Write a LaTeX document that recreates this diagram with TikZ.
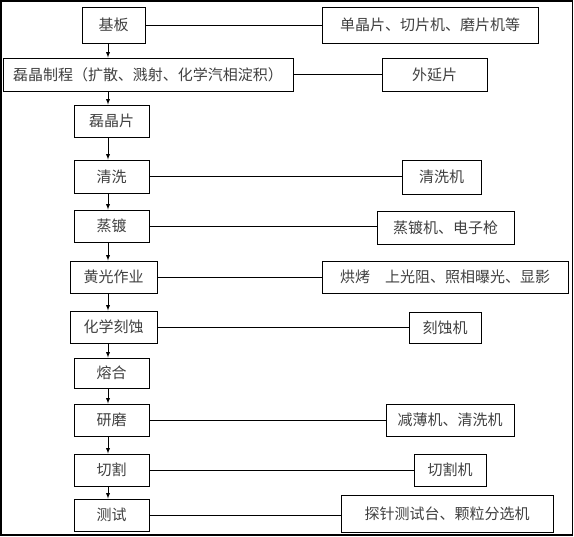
\documentclass[tikz,border=0pt]{standalone}
\usepackage{fontspec}
\setmainfont{Noto Sans CJK SC}
\usepackage{tikz}

\begin{document}
\begin{tikzpicture}[x=1pt, y=-1pt, thick]
    \tikzstyle{step box} = [rectangle, draw, line width=0.9pt, inner sep=0pt, text=black!75, font=\fontsize{15}{18}\selectfont, text centered]
    \tikzstyle{flow} = [->, >=latex, line width=0.9pt]
    \tikzstyle{link} = [-, line width=0.9pt]
    \useasboundingbox (0,0) rectangle (574,537);
    \draw[line width=1.2pt] (1,1) rectangle (572.5,535);
    \coordinate (axis) at (108,0);
    % process steps
    \node[step box, minimum width=63pt, minimum height=36pt] (S1) at (113.5,25) {基板};
    \node[step box, minimum width=290pt, minimum height=33pt] (S2) at (148,74.5) {磊晶制程（扩散、溅射、化学汽相淀积）};
    \node[step box, minimum width=75pt, minimum height=32pt] (S3) at (111.5,121) {磊晶片};
    \node[step box, minimum width=75pt, minimum height=33pt] (S4) at (111.5,176.5) {清洗};
    \node[step box, minimum width=75pt, minimum height=32pt] (S5) at (111.5,226) {蒸镀};
    \node[step box, minimum width=87pt, minimum height=32pt] (S6) at (113.5,277) {黄光作业};
    \node[step box, minimum width=87pt, minimum height=32pt] (S7) at (113.5,327) {化学刻蚀};
    \node[step box, minimum width=75pt, minimum height=30pt] (S8) at (111.5,373) {熔合};
    \node[step box, minimum width=75pt, minimum height=32pt] (S9) at (111.5,420) {研磨};
    \node[step box, minimum width=75pt, minimum height=32pt] (S10) at (111.5,470) {切割};
    \node[step box, minimum width=75pt, minimum height=32pt] (S11) at (111.5,515) {测试};
    % equipment
    \node[step box, minimum width=216pt, minimum height=36pt] (E1) at (430,25) {单晶片、切片机、磨片机等};
    \node[step box, minimum width=105pt, minimum height=33pt] (E2) at (434.5,74.5) {外延片};
    \node[step box, minimum width=79pt, minimum height=34pt] (E4) at (441.5,177) {清洗机};
    \node[step box, minimum width=137pt, minimum height=33pt] (E5) at (445.5,227.5) {蒸镀机、电子枪};
    \node[step box, minimum width=246pt, minimum height=32pt] (E6) at (445,277) {烘烤\quad 上光阻、照相曝光、显影};
    \node[step box, minimum width=72pt, minimum height=31pt] (E7) at (445,327.5) {刻蚀机};
    \node[step box, minimum width=128pt, minimum height=32pt] (E9) at (450,420) {减薄机、清洗机};
    \node[step box, minimum width=72pt, minimum height=32pt] (E10) at (450,470) {切割机};
    \node[step box, minimum width=212pt, minimum height=37pt] (E11) at (447,513.5) {探针测试台、颗粒分选机};
    % arrows down the process
    \foreach \a/\b in {S1/S2, S2/S3, S3/S4, S4/S5, S5/S6, S6/S7, S7/S8, S8/S9, S9/S10, S10/S11}
        \draw[flow] (\a.south -| axis) -- (\b.north -| axis);
    % lines to equipment
    \foreach \a/\b in {S1/E1, S2/E2, S4/E4, S5/E5, S6/E6, S7/E7, S9/E9, S10/E10, S11/E11}
        \draw[link] (\a.east) -- (\a.east -| \b.west);
\end{tikzpicture}
\end{document}
